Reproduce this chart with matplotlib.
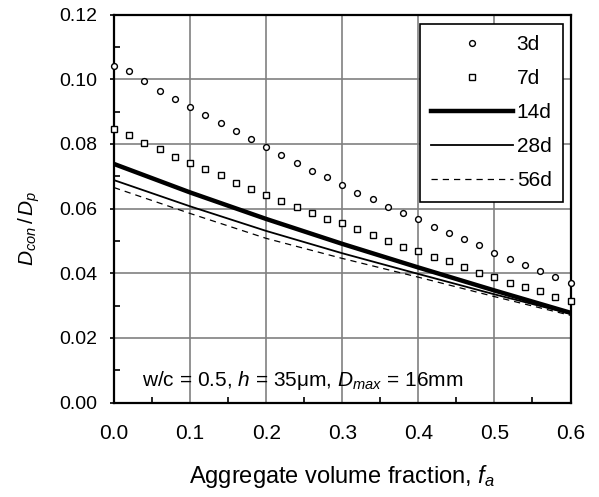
import numpy as np
import matplotlib
matplotlib.use("Agg")
import matplotlib.pyplot as plt
from matplotlib.ticker import MultipleLocator

plt.rcParams['font.family'] = ['Liberation Sans', 'DejaVu Sans']
plt.rcParams['mathtext.fontset'] = 'custom'
plt.rcParams['mathtext.rm'] = 'Liberation Sans'
plt.rcParams['mathtext.it'] = 'Liberation Sans:italic'

# Marker series (x every 0.02)
fa_points = [round(0.02 * i, 2) for i in range(31)]
d3 = [0.1042, 0.1025, 0.0994, 0.0964, 0.0939, 0.0914, 0.0890, 0.0865, 0.0840, 0.0816,
      0.0791, 0.0767, 0.0742, 0.0717, 0.0699, 0.0674, 0.0648, 0.0631, 0.0606, 0.0587,
      0.0568, 0.0544, 0.0525, 0.0506, 0.0488, 0.0464, 0.0445, 0.0427, 0.0408, 0.0389, 0.0371]
d7 = [0.0846, 0.0828, 0.0802, 0.0784, 0.0760, 0.0741, 0.0722, 0.0705, 0.0679, 0.0661,
      0.0643, 0.0624, 0.0606, 0.0586, 0.0568, 0.0556, 0.0537, 0.0518, 0.0500, 0.0481,
      0.0469, 0.0450, 0.0438, 0.0419, 0.0402, 0.0389, 0.0371, 0.0358, 0.0346, 0.0327, 0.0314]

# Line series
fa_lines = [0.0, 0.1, 0.2, 0.3, 0.4, 0.5, 0.6]
d14 = [0.0738, 0.0650, 0.0568, 0.0491, 0.0418, 0.0347, 0.0278]
d28 = [0.0688, 0.0607, 0.0531, 0.0462, 0.0398, 0.0335, 0.0275]
d56 = [0.0665, 0.0585, 0.0508, 0.0446, 0.0388, 0.0328, 0.0270]

labels = ['3d', '7d', '14d', '28d', '56d']
x_ticks = [0.0, 0.1, 0.2, 0.3, 0.4, 0.5, 0.6]
y_ticks = [0.00, 0.02, 0.04, 0.06, 0.08, 0.10, 0.12]

fig = plt.figure(figsize=(5.99, 4.97), dpi=100)
ax = fig.add_axes([114 / 599, 1 - 402.7 / 497, (570.5 - 114) / 599, (402.7 - 14.5) / 497])

ax.plot(fa_points, d3, linestyle='none', marker='o', markersize=4.2, markerfacecolor='white',
        markeredgecolor='black', markeredgewidth=1.0, label=labels[0], zorder=5, clip_on=False)
ax.plot(fa_points, d7, linestyle='none', marker='s', markersize=4.2, markerfacecolor='white',
        markeredgecolor='black', markeredgewidth=1.0, label=labels[1], zorder=5, clip_on=False)
ax.plot(fa_lines, d14, color='black', linewidth=3.2, label=labels[2], zorder=4)
ax.plot(fa_lines, d28, color='black', linewidth=1.3, label=labels[3], zorder=4)
ax.plot(fa_lines, d56, color='black', linewidth=0.9, linestyle=(0, (5, 4)), label=labels[4], zorder=4)

ax.set_xlim(0, 0.6)
ax.set_ylim(0, 0.12)
ax.set_xticks(x_ticks)
ax.set_yticks(y_ticks)
ax.set_xticklabels([f'{v:.1f}' for v in x_ticks])
ax.set_yticklabels([f'{v:.2f}' for v in y_ticks])
ax.xaxis.set_minor_locator(MultipleLocator(0.05))
ax.yaxis.set_minor_locator(MultipleLocator(0.01))
ax.grid(True, which='major', color='#808080', linewidth=1.2)
ax.set_axisbelow(True)

ax.tick_params(axis='x', which='major', labelsize=15, length=0, pad=15)
ax.tick_params(axis='y', which='major', labelsize=14, length=3, direction='out', pad=9, width=1.2)
ax.tick_params(axis='x', which='minor', direction='in', length=4, width=1.2, top=False)
ax.tick_params(axis='y', which='minor', direction='in', length=4, width=1.2, right=False)
for s in ax.spines.values():
    s.set_linewidth(1.6)
    s.set_color('black')

ax.set_xlabel('Aggregate volume fraction, $f_a$', fontsize=17, labelpad=15)
ax.set_ylabel(r'$D_{con}\,/\,D_p$', fontsize=15)
ax.yaxis.set_label_coords(-0.158, 0.45)

ax.text(0.061, 0.058, r'w/c = 0.5, $h$ = 35μm, $D_{max}$ = 16mm', transform=ax.transAxes,
        fontsize=15, va='center', ha='left')

leg = ax.legend(loc='upper right', bbox_to_anchor=(0.9836, 0.9755), borderaxespad=0,
                fontsize=15, handlelength=3.9, labelspacing=0.72, handletextpad=0.2,
                frameon=True, fancybox=False, borderpad=0.55)
leg.get_frame().set_edgecolor('black')
leg.get_frame().set_linewidth(1.2)
leg.get_frame().set_alpha(1)

fig.savefig('out.png', dpi=100)
